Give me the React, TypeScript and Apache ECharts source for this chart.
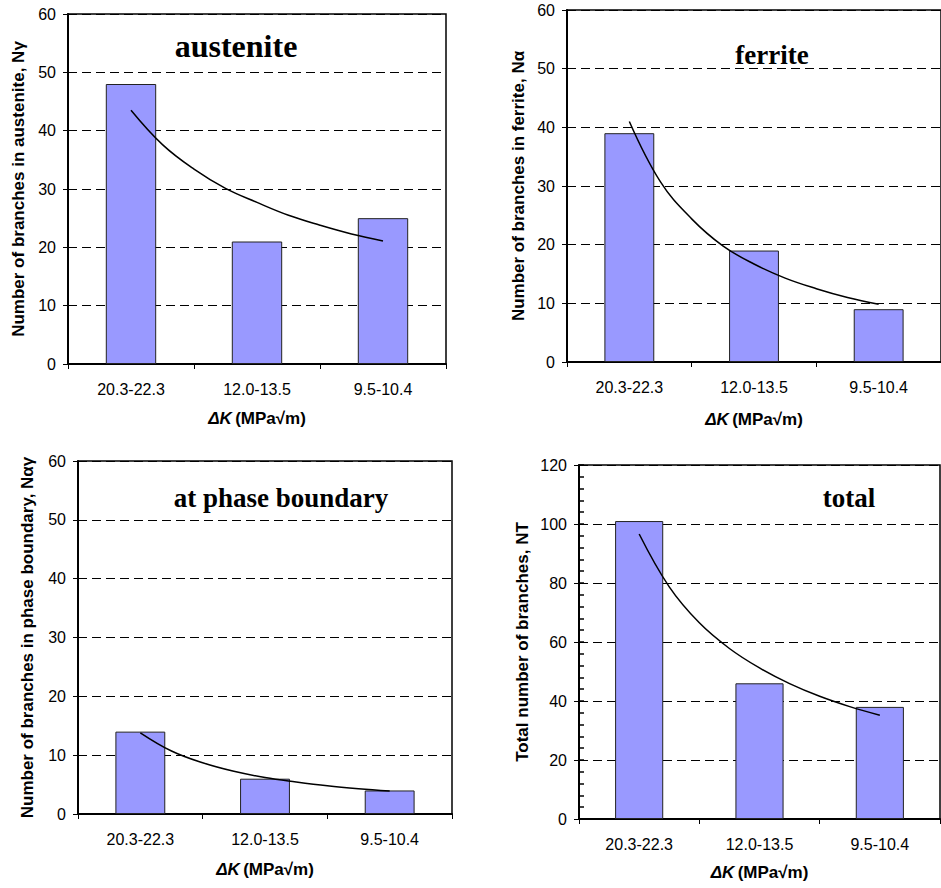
import React, { useEffect, useRef } from "react";
import * as echarts from "echarts";

const CATEGORIES = ["20.3-22.3", "12.0-13.5", "9.5-10.4"];
const AUSTENITE = [48, 21, 25];
const FERRITE = [39, 19, 9];
const PHASE_BOUNDARY = [14, 6, 4];
const TOTAL = [101, 46, 38];

// trend curves at category positions 1 … 3
const TREND_X = [1, 1.25, 1.5, 1.75, 2, 2.25, 2.5, 2.75, 3];
const AUSTENITE_TREND = [43.5, 37.6, 33.4, 30.1, 27.7, 25.5, 23.8, 22.3, 21.1];
const FERRITE_TREND = [41, 30.7, 24.4, 19.8, 16.7, 14.3, 12.5, 11.0, 9.85];
const PHASE_TREND = [13.8, 10.7, 8.7, 7.25, 6.2, 5.45, 4.8, 4.3, 3.9];
const TOTAL_TREND = [96.6, 78.7, 66.5, 57.8, 51.2, 45.9, 41.6, 38.1, 35.2];

const Y_MAX_SMALL = 60;
const Y_STEP_SMALL = 10;
const Y_MAX_TOTAL = 120;
const Y_STEP_TOTAL = 20;
const Y_MINOR_TOTAL = 4;

const TITLES = ["austenite", "ferrite", "at phase boundary", "total"];
const Y_NAMES = [
  "Number of branches in austenite, Nγ",
  "Number of branches in ferrite, Nα",
  "Number of branches in phase boundary, Nαγ",
  "Total number of branches, NT",
];

const SANS = '"Liberation Sans", Arial, sans-serif';
const SERIF = '"Liberation Serif", "Times New Roman", serif';

const PANELS = [
  { left: 68, top: 14, width: 378, height: 350, values: AUSTENITE, trend: AUSTENITE_TREND, max: Y_MAX_SMALL, step: Y_STEP_SMALL, minor: 0, yGap: 41, xGap: 46, tx: 236, ty: 46, tsize: 32 },
  { left: 567, top: 10, width: 381, height: 352, values: FERRITE, trend: FERRITE_TREND, max: Y_MAX_SMALL, step: Y_STEP_SMALL, minor: 0, yGap: 40, xGap: 49, tx: 772, ty: 55, tsize: 27 },
  { left: 78, top: 461, width: 374, height: 353, values: PHASE_BOUNDARY, trend: PHASE_TREND, max: Y_MAX_SMALL, step: Y_STEP_SMALL, minor: 0, yGap: 42, xGap: 47, tx: 281, ty: 498, tsize: 27 },
  { left: 579, top: 465, width: 361, height: 354, values: TOTAL, trend: TOTAL_TREND, max: Y_MAX_TOTAL, step: Y_STEP_TOTAL, minor: Y_MINOR_TOTAL, yGap: 48, xGap: 45, tx: 849, ty: 498, tsize: 27 },
];

function buildOption() {
  const grid: any[] = [];
  const xAxis: any[] = [];
  const yAxis: any[] = [];
  const series: any[] = [];
  const graphic: any[] = [];

  PANELS.forEach((p, i) => {
    grid.push({
      left: p.left,
      top: p.top,
      width: p.width,
      height: p.height,
      show: true,
      borderColor: "#000",
      borderWidth: 1.5,
      backgroundColor: "transparent",
    });
    const catIdx = xAxis.length;
    xAxis.push({
      type: "category",
      gridIndex: i,
      data: CATEGORIES,
      boundaryGap: true,
      axisLine: { show: true, lineStyle: { color: "#000", width: 2 } },
      axisTick: { show: true, length: 5, lineStyle: { color: "#000", width: 1 } },
      axisLabel: { color: "#000", fontSize: 16, fontFamily: SANS, margin: 17 },
      splitLine: { show: false },
      name: "{k|ΔK} {u|(MPa√m)}",
      nameLocation: "middle",
      nameGap: p.xGap,
      nameTextStyle: {
        rich: {
          k: { fontStyle: "italic", fontWeight: "bold", fontSize: 17, fontFamily: SANS, color: "#000" },
          u: { fontWeight: "bold", fontSize: 17, fontFamily: SANS, color: "#000" },
        },
      },
    });
    const valIdx = xAxis.length;
    xAxis.push({ type: "value", gridIndex: i, min: 0.5, max: 3.5, show: false });

    const yIdx = yAxis.length;
    yAxis.push({
      type: "value",
      gridIndex: i,
      position: "left",
      min: 0,
      max: p.max,
      interval: p.step,
      axisLine: { show: true, lineStyle: { color: "#000", width: 2 } },
      axisTick: { show: true, length: 5, lineStyle: { color: "#000", width: 1 } },
      axisLabel: { color: "#000", fontSize: 16, fontFamily: SANS, margin: 12 },
      splitLine: { show: true, lineStyle: { color: "#000", width: 1, type: [9, 5] } },
      name: Y_NAMES[i],
      nameLocation: "middle",
      nameGap: p.yGap,
      nameTextStyle: { color: "#000", fontSize: 17, fontWeight: "bold", fontFamily: SANS },
    });
    if (p.minor) {
      yAxis.push({
        type: "value",
        gridIndex: i,
        position: "left",
        offset: 0,
        min: 0,
        max: p.max,
        interval: p.minor,
        axisLine: { show: false, onZero: false },
        axisTick: { show: true, inside: true, length: 5, lineStyle: { color: "#000", width: 1.5 } },
        axisLabel: { show: false },
        splitLine: { show: false },
      });
    }

    series.push({
      type: "bar",
      xAxisIndex: catIdx,
      yAxisIndex: yIdx,
      data: p.values,
      barWidth: "40%",
      itemStyle: { color: "#9999FF", borderColor: "#222", borderWidth: 1 },
      z: 2,
    });
    series.push({
      type: "line",
      xAxisIndex: valIdx,
      yAxisIndex: yIdx,
      data: TREND_X.map((x, k) => [x, p.trend[k]]),
      smooth: 0.4,
      symbol: "none",
      lineStyle: { color: "#000", width: 1.5 },
      z: 3,
    });

    graphic.push({
      type: "text",
      x: p.tx,
      y: p.ty,
      z: 10,
      style: {
        text: TITLES[i],
        fill: "#000",
        fontSize: p.tsize,
        fontWeight: "bold",
        fontFamily: SERIF,
        align: "center",
        verticalAlign: "middle",
        textAlign: "center",
        textVerticalAlign: "middle",
      },
    });
  });

  return { animation: false, backgroundColor: "#fff", grid, xAxis, yAxis, series, graphic };
}

export default function App() {
  const ref = useRef<HTMLDivElement>(null);
  useEffect(() => {
    if (!ref.current) return;
    const chart = echarts.init(ref.current, undefined, { renderer: "svg" });
    chart.setOption(buildOption() as any);
    return () => chart.dispose();
  }, []);
  return (
    <div style={{ position: "absolute", left: 0, top: 0, width: 941, height: 888, overflow: "hidden", background: "#fff" }}>
      <div ref={ref} style={{ width: 941, height: 888 }} />
    </div>
  );
}
